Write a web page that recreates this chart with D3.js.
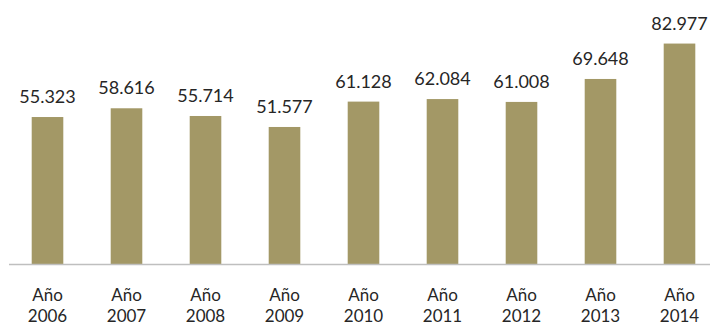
<!DOCTYPE html>
<html><head><meta charset="utf-8">
<script src="https://cdn.jsdelivr.net/npm/d3@7"></script>
<style>body{margin:0;background:#fff}svg{display:block}</style>
</head><body>
<svg id="c" width="710" height="325"></svg>
<script>
const years = ["2006","2007","2008","2009","2010","2011","2012","2013","2014"];
const values = [55.323, 58.616, 55.714, 51.577, 61.128, 62.084, 61.008, 69.648, 82.977];
const valueLabels = ["55.323","58.616","55.714","51.577","61.128","62.084","61.008","69.648","82.977"];

const svg = d3.select("#c");
const x = d3.scaleBand().domain(years).range([8, 719]).paddingInner(0.6).paddingOuter(0.3);
const y = d3.scaleLinear().domain([0, 90]).range([264, 24.9]);
const font = "Lato, 'Open Sans', sans-serif";

svg.selectAll("rect.bar").data(years).enter().append("rect")
  .attr("class","bar")
  .attr("x", d => x(d))
  .attr("width", x.bandwidth())
  .attr("y", (d,i) => y(values[i]))
  .attr("height", (d,i) => y(0) - y(values[i]))
  .attr("fill", "#A39866");

svg.append("line").attr("x1", 9).attr("x2", 710).attr("y1", y(0)+0.5).attr("y2", y(0)+0.5)
  .attr("stroke", "#bfbfbf").attr("stroke-width", 1.5);

svg.selectAll("text.val").data(years).enter().append("text")
  .attr("class","val")
  .attr("x", d => x(d) + x.bandwidth()/2)
  .attr("y", (d,i) => y(values[i]) - 14)
  .attr("text-anchor","middle")
  .attr("font-family", font).attr("font-size", 18).attr("fill", "#262626")
  .text((d,i) => valueLabels[i]);

const xl = svg.selectAll("text.xl").data(years).enter().append("text").attr("class","xl")
  .attr("text-anchor","middle")
  .attr("font-family", font).attr("font-size", 17).attr("fill", "#262626");
xl.append("tspan").attr("x", d => x(d) + x.bandwidth()/2).attr("y", 301).text("Año");
xl.append("tspan").attr("x", d => x(d) + x.bandwidth()/2).attr("y", 322).text(d => d);
</script>
</body></html>
